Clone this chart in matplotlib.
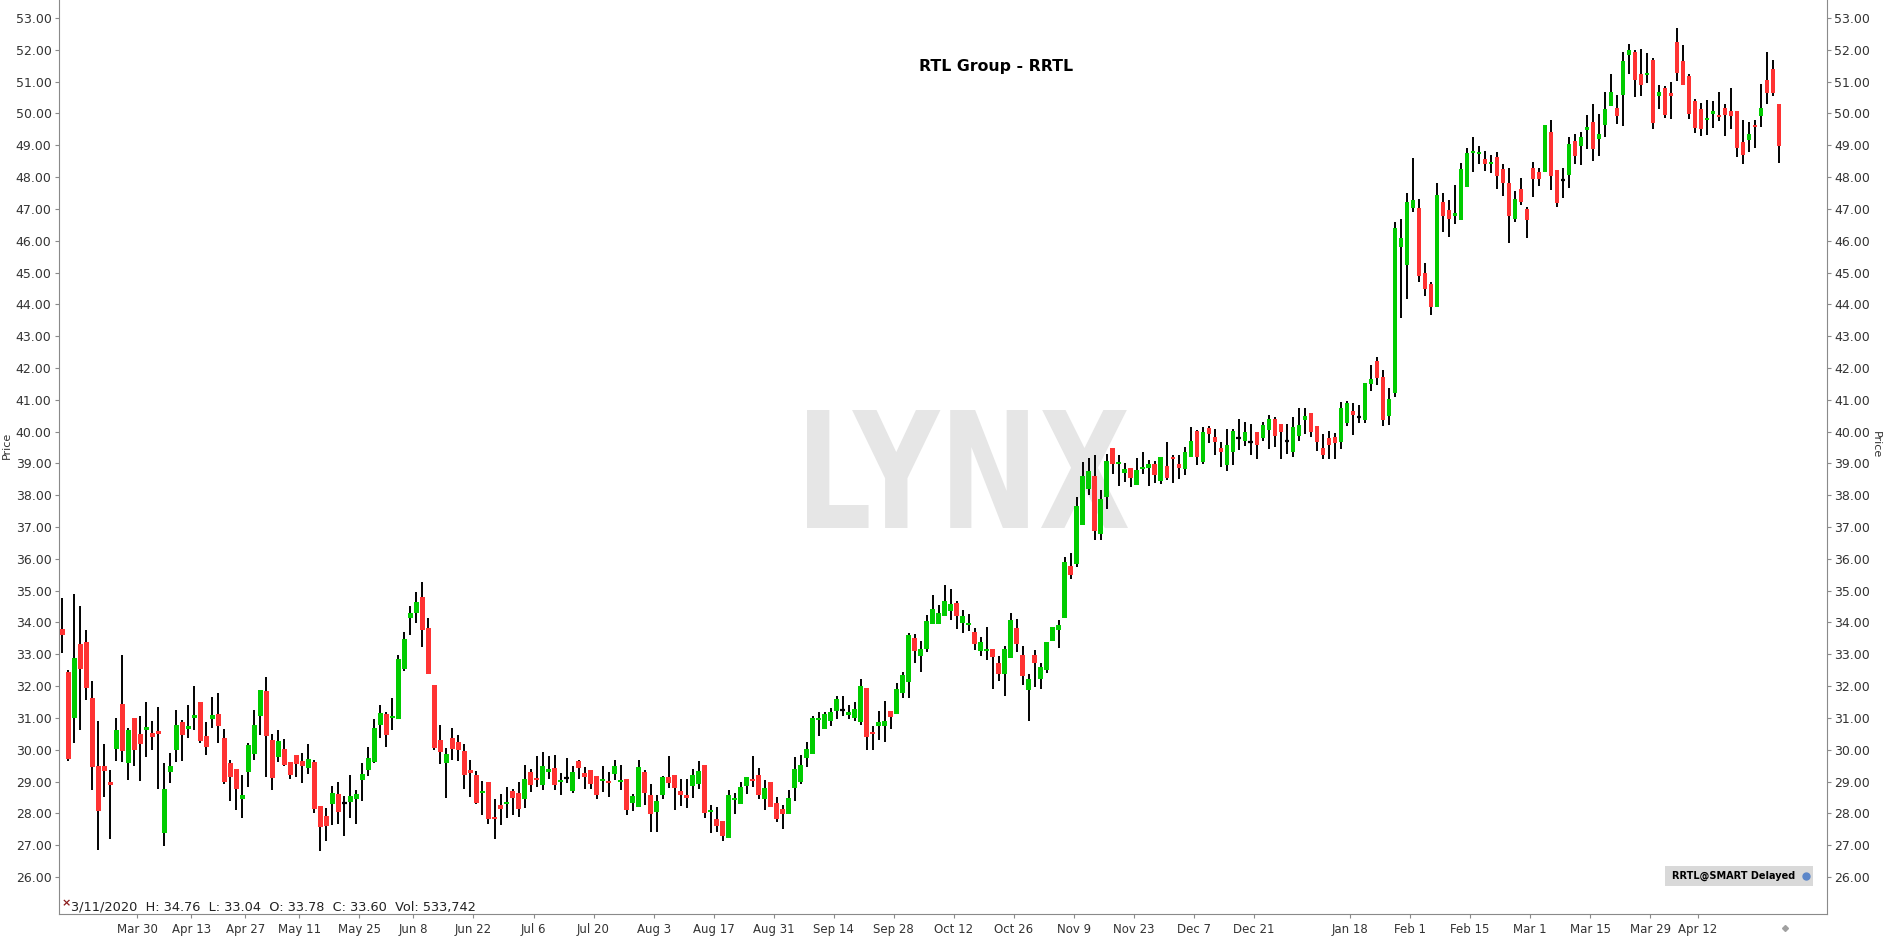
import numpy as np
import pandas as pd
import matplotlib
matplotlib.use("Agg")
import matplotlib.pyplot as plt
from matplotlib.patches import Rectangle, PathPatch
from matplotlib.textpath import TextPath
from matplotlib.font_manager import FontProperties
from matplotlib.transforms import Affine2D

# daily OHLC, RRTL, 11 Mar 2020 .. 29 Apr 2021
opens = [
    33.78, 32.44, 31.00, 33.32, 33.38, 31.62, 29.48, 29.48, 28.98, 30.03,
    31.43, 29.59, 30.99, 30.50, 30.63, 30.53, 30.58, 27.39, 29.30, 29.99,
    30.86, 30.65, 31.00, 31.49, 30.43, 30.96, 31.12, 30.37, 29.59, 29.39,
    28.45, 29.30, 29.86, 31.06, 31.84, 30.30, 29.78, 30.02, 29.61, 29.83,
    29.64, 29.43, 29.61, 28.23, 27.91, 28.31, 28.60, 28.33, 28.36, 28.45,
    29.04, 29.36, 29.61, 30.77, 31.12, 31.00, 30.97, 32.54, 34.15, 34.30,
    34.80, 33.82, 32.03, 30.30, 29.59, 30.36, 30.24, 29.95, 29.36, 29.20,
    28.64, 28.99, 27.88, 28.26, 28.30, 28.70, 28.63, 28.44, 29.29, 29.10,
    28.89, 29.29, 29.42, 29.00, 29.11, 28.71, 29.64, 29.26, 29.36, 29.17,
    29.02, 29.01, 29.24, 29.00, 29.07, 28.33, 28.20, 29.29, 28.57, 28.05,
    28.57, 29.15, 29.20, 28.70, 28.57, 28.87, 28.93, 29.52, 28.05, 27.82,
    27.76, 27.23, 28.41, 28.30, 28.87, 29.08, 29.20, 28.45, 28.98, 28.32,
    28.14, 27.99, 28.80, 29.00, 29.75, 29.87, 30.93, 30.66, 30.91, 31.23,
    31.26, 31.10, 30.99, 30.88, 31.94, 30.55, 30.74, 30.74, 31.21, 31.13,
    31.78, 32.13, 33.51, 32.95, 33.16, 33.96, 33.96, 34.21, 34.37, 34.60,
    33.99, 33.92, 33.70, 33.11, 33.11, 33.16, 32.72, 32.39, 32.89, 33.82,
    32.97, 31.89, 32.97, 32.23, 32.51, 33.41, 33.76, 34.15, 35.77, 35.85,
    37.07, 38.19, 38.60, 36.78, 37.94, 39.48, 38.99, 38.70, 38.85, 38.33,
    38.83, 38.86, 38.98, 38.46, 38.92, 39.20, 38.98, 38.82, 39.20, 40.02,
    39.04, 40.11, 39.83, 39.48, 38.95, 39.36, 39.80, 39.70, 39.68, 39.98,
    39.80, 40.06, 40.39, 40.24, 39.71, 39.37, 39.87, 40.36, 40.59, 40.17,
    39.49, 39.80, 39.84, 39.68, 40.28, 40.65, 40.47, 40.37, 41.50, 42.22,
    41.71, 40.50, 41.22, 45.81, 45.25, 47.04, 47.03, 44.98, 44.64, 43.92,
    47.22, 46.96, 46.78, 46.66, 47.70, 48.76, 48.73, 48.57, 48.42, 48.63,
    48.25, 47.81, 46.69, 47.62, 47.00, 48.28, 48.16, 48.16, 49.42, 48.22,
    47.91, 48.07, 49.13, 48.97, 49.48, 49.73, 49.20, 49.64, 50.23, 50.17,
    50.58, 51.84, 51.93, 51.24, 51.21, 51.68, 50.55, 50.80, 50.64, 52.25,
    51.65, 51.18, 50.39, 50.14, 49.79, 49.98, 49.95, 50.17, 50.08, 50.08,
    49.10, 49.16, 49.64, 49.92, 51.05, 51.40, 50.30,
]
highs = [
    34.76, 32.50, 34.91, 34.51, 33.76, 32.15, 30.90, 30.18, 29.36, 30.99,
    32.97, 30.67, 30.99, 31.06, 31.50, 30.89, 31.35, 29.59, 29.90, 31.24,
    30.95, 31.40, 32.00, 31.49, 30.88, 31.66, 31.79, 30.64, 29.67, 29.41,
    29.20, 30.20, 31.24, 31.87, 32.29, 30.49, 30.61, 30.33, 29.62, 29.83,
    29.90, 30.18, 29.67, 28.23, 28.18, 28.85, 28.98, 28.55, 29.20, 28.75,
    29.59, 30.09, 30.98, 31.40, 31.19, 31.62, 32.97, 33.71, 34.51, 34.95,
    35.27, 34.13, 32.03, 30.77, 30.07, 30.67, 30.46, 30.17, 29.67, 29.33,
    29.01, 28.99, 28.46, 28.62, 28.83, 28.77, 28.98, 29.51, 29.39, 29.80,
    29.92, 29.81, 29.83, 29.27, 29.73, 29.48, 29.67, 29.46, 29.36, 29.17,
    29.48, 29.29, 29.67, 29.51, 29.07, 28.62, 29.67, 29.36, 28.92, 28.57,
    29.19, 29.80, 29.20, 29.08, 29.08, 29.38, 29.64, 29.52, 28.26, 28.21,
    27.76, 28.73, 28.65, 28.98, 29.14, 29.80, 29.43, 29.05, 28.98, 28.52,
    28.26, 28.73, 29.78, 29.83, 30.25, 31.06, 31.18, 31.18, 31.31, 31.70,
    31.70, 31.40, 31.50, 32.21, 31.94, 30.74, 31.21, 31.53, 31.21, 32.10,
    32.43, 33.67, 33.63, 33.42, 34.23, 34.86, 34.55, 35.18, 35.05, 34.68,
    34.39, 34.28, 33.82, 33.54, 33.85, 33.16, 32.94, 33.26, 34.30, 34.11,
    33.26, 32.37, 33.13, 32.72, 33.38, 33.85, 34.08, 36.06, 36.18, 37.94,
    39.04, 39.16, 39.26, 38.16, 39.29, 39.48, 39.27, 39.02, 38.85, 39.17,
    39.36, 39.10, 39.07, 39.19, 39.67, 39.26, 39.26, 39.51, 40.14, 40.05,
    40.14, 40.17, 40.08, 39.67, 40.08, 40.08, 40.40, 40.30, 40.24, 39.98,
    40.30, 40.52, 40.47, 40.24, 40.24, 40.47, 40.75, 40.75, 40.59, 40.17,
    39.92, 40.02, 39.96, 40.93, 40.97, 40.91, 40.83, 41.52, 42.09, 42.34,
    41.93, 41.37, 46.59, 46.68, 47.50, 48.60, 47.31, 45.30, 44.70, 47.81,
    47.50, 47.28, 47.75, 48.44, 48.91, 49.26, 48.97, 48.82, 48.69, 48.79,
    48.41, 48.28, 47.56, 47.97, 47.06, 48.47, 48.28, 49.64, 49.79, 48.22,
    48.28, 49.26, 49.35, 49.42, 49.95, 50.30, 49.98, 50.67, 51.24, 50.58,
    51.93, 52.18, 52.00, 52.03, 51.90, 51.74, 50.90, 50.86, 50.99, 52.69,
    52.15, 51.24, 50.45, 50.33, 50.42, 50.39, 50.67, 50.30, 50.80, 50.08,
    49.79, 49.73, 49.79, 50.93, 51.93, 51.68, 50.30,
]
lows = [
    33.04, 29.65, 30.20, 30.61, 31.56, 28.75, 26.84, 28.52, 27.20, 29.65,
    29.62, 29.04, 29.49, 29.01, 29.78, 29.99, 28.76, 26.97, 28.96, 29.62,
    29.65, 30.37, 30.61, 30.20, 29.83, 30.67, 30.22, 28.91, 28.39, 28.12,
    27.84, 28.83, 29.67, 30.46, 29.14, 28.75, 29.61, 29.49, 29.08, 29.13,
    28.96, 29.25, 28.01, 26.82, 27.14, 27.63, 27.68, 27.28, 27.86, 27.68,
    28.39, 29.17, 29.57, 30.37, 30.09, 30.61, 30.97, 32.48, 33.60, 33.97,
    33.23, 32.37, 30.00, 29.55, 28.49, 29.67, 29.64, 28.76, 28.52, 28.28,
    27.94, 27.68, 27.21, 27.63, 27.84, 27.94, 27.89, 28.17, 28.68, 28.83,
    28.73, 29.07, 28.73, 28.59, 28.96, 28.64, 29.09, 28.78, 28.76, 28.45,
    28.68, 28.51, 29.04, 28.73, 27.94, 28.08, 28.20, 28.25, 27.42, 27.42,
    28.45, 28.79, 28.10, 28.24, 28.18, 28.49, 28.77, 27.86, 27.37, 27.42,
    27.14, 27.23, 27.99, 28.30, 28.60, 28.83, 28.45, 28.12, 28.20, 27.74,
    27.50, 27.99, 28.40, 28.91, 29.47, 29.87, 30.44, 30.66, 30.75, 30.97,
    31.06, 30.97, 30.91, 30.77, 29.99, 29.99, 30.30, 30.24, 30.65, 31.13,
    31.62, 31.62, 32.72, 32.44, 33.07, 33.96, 33.96, 34.21, 34.08, 33.80,
    33.68, 33.74, 33.15, 32.95, 32.83, 31.92, 32.17, 31.70, 32.89, 33.08,
    32.04, 30.91, 31.98, 31.90, 32.42, 33.41, 33.20, 34.15, 35.36, 35.75,
    37.07, 38.00, 36.59, 36.59, 37.57, 38.67, 38.29, 38.42, 38.27, 38.33,
    38.67, 38.30, 38.39, 38.36, 38.49, 38.39, 38.51, 38.64, 39.20, 38.95,
    38.98, 39.64, 39.26, 38.88, 38.76, 38.95, 39.42, 39.55, 39.26, 39.13,
    39.71, 39.46, 39.52, 39.13, 39.31, 39.21, 39.71, 39.92, 39.84, 39.40,
    39.13, 39.13, 39.13, 39.46, 40.18, 39.90, 40.28, 40.28, 41.28, 41.47,
    40.18, 40.22, 41.10, 43.58, 44.18, 46.91, 44.71, 44.27, 43.67, 43.92,
    46.28, 46.12, 46.52, 46.66, 47.70, 48.17, 48.42, 48.19, 48.14, 47.62,
    47.40, 45.94, 46.60, 47.13, 46.09, 47.38, 47.73, 48.16, 47.59, 47.07,
    47.34, 47.66, 48.41, 48.38, 48.88, 48.50, 48.66, 49.26, 50.23, 49.67,
    49.60, 51.24, 50.52, 50.55, 50.96, 49.51, 50.14, 49.86, 49.83, 51.02,
    50.89, 49.83, 49.38, 49.29, 49.32, 49.54, 49.76, 49.29, 49.51, 48.63,
    48.41, 48.79, 48.91, 49.57, 50.30, 50.55, 48.44,
]
closes = [
    33.60, 29.70, 32.87, 32.54, 31.95, 29.46, 28.08, 29.34, 28.90, 30.61,
    29.96, 30.61, 30.00, 30.19, 30.71, 30.40, 30.50, 28.76, 29.48, 30.77,
    30.46, 30.74, 31.08, 30.27, 30.09, 31.09, 30.75, 28.99, 29.15, 28.76,
    28.57, 30.14, 30.77, 31.87, 30.44, 29.12, 30.27, 29.52, 29.21, 29.55,
    29.49, 29.70, 28.14, 27.57, 27.61, 28.63, 28.05, 28.33, 28.54, 28.62,
    29.25, 29.73, 30.68, 31.17, 30.46, 31.06, 32.85, 33.48, 34.30, 34.64,
    33.76, 32.37, 30.06, 29.93, 29.86, 30.03, 29.99, 29.20, 29.27, 28.33,
    28.69, 27.83, 27.83, 28.14, 28.35, 28.49, 28.14, 29.07, 28.89, 29.05,
    29.48, 29.38, 28.89, 29.04, 29.11, 29.29, 29.43, 29.15, 28.92, 28.57,
    29.07, 28.96, 29.48, 29.06, 28.10, 28.54, 29.45, 28.64, 27.99, 28.39,
    29.15, 28.96, 28.80, 28.59, 28.49, 29.20, 29.33, 28.02, 28.10, 27.61,
    27.30, 28.57, 28.47, 28.83, 29.14, 29.01, 28.57, 28.80, 28.21, 27.82,
    27.99, 28.49, 29.39, 29.52, 30.03, 30.99, 30.99, 31.12, 31.18, 31.58,
    31.26, 31.18, 31.27, 32.00, 30.41, 30.50, 30.87, 30.90, 31.03, 31.91,
    32.35, 33.60, 33.10, 33.16, 34.04, 34.42, 34.30, 34.67, 34.58, 34.21,
    34.20, 33.97, 33.33, 33.38, 33.16, 32.92, 32.39, 33.16, 34.08, 33.33,
    32.32, 32.22, 32.73, 32.60, 33.38, 33.85, 33.92, 35.90, 35.49, 37.66,
    38.60, 38.76, 36.87, 37.88, 39.07, 38.99, 39.05, 38.83, 38.55, 38.79,
    38.88, 38.98, 38.64, 39.19, 38.55, 39.15, 38.85, 39.36, 39.70, 39.20,
    39.99, 39.92, 39.67, 39.36, 39.58, 40.02, 39.80, 39.99, 39.68, 39.59,
    40.20, 40.39, 39.87, 39.99, 39.71, 40.14, 40.20, 40.49, 39.99, 39.68,
    39.27, 39.59, 39.65, 40.74, 40.91, 40.53, 40.47, 41.52, 41.65, 41.69,
    40.37, 41.02, 46.40, 46.08, 47.22, 47.28, 44.90, 44.49, 43.92, 47.43,
    46.78, 46.69, 46.87, 48.25, 48.76, 48.82, 48.79, 48.42, 48.47, 48.04,
    47.82, 46.78, 47.31, 47.23, 46.66, 47.94, 47.94, 49.64, 48.03, 47.20,
    47.91, 49.04, 48.66, 49.26, 49.57, 48.88, 49.35, 50.14, 50.67, 49.92,
    51.65, 52.00, 51.05, 50.89, 51.27, 49.70, 50.67, 49.95, 50.55, 51.27,
    50.89, 49.98, 49.54, 49.51, 49.86, 50.08, 49.89, 49.95, 49.92, 48.91,
    48.69, 49.35, 49.57, 50.17, 50.64, 50.64, 48.98,
]

# trading calendar (exchange holidays left out)
holidays = ["2020-04-10", "2020-04-13", "2020-05-01", "2020-06-01",
            "2020-12-24", "2020-12-25", "2020-12-31", "2021-01-01",
            "2021-04-02", "2021-04-05"]
dates = pd.bdate_range("2020-03-11", "2021-04-30")
dates = dates[~dates.isin(pd.to_datetime(holidays))][:len(closes)]

tick_dates = ["2020-03-30", "2020-04-13", "2020-04-27", "2020-05-11", "2020-05-25",
              "2020-06-08", "2020-06-22", "2020-07-06", "2020-07-20", "2020-08-03",
              "2020-08-17", "2020-08-31", "2020-09-14", "2020-09-28", "2020-10-12",
              "2020-10-26", "2020-11-09", "2020-11-23", "2020-12-07", "2020-12-21",
              "2021-01-18", "2021-02-01", "2021-02-15", "2021-03-01", "2021-03-15",
              "2021-03-29", "2021-04-12"]

W, H = 1886, 938
fig = plt.figure(figsize=(W / 100, H / 100), dpi=100)
ax = fig.add_axes([58.5 / W, 24 / H, (1827 - 58.5) / W, 914 / H])

o = np.array(opens)
h = np.array(highs)
l = np.array(lows)
c = np.array(closes)
x = np.arange(len(c))

GREEN = "#00cc00"
RED = "#ff3333"

# watermark, stretched to the box it fills in the original
tp = TextPath((0, 0), "LYNX", size=100,
              prop=FontProperties(family="DejaVu Sans", weight="bold"))
bb = tp.get_extents()
wm_tr = (Affine2D().translate(-bb.x0, -bb.y0)
         .scale((1128 - 807) / bb.width, (528 - 410) / bb.height)
         .translate(807, H - 528)
         .scale(1 / 100) + fig.dpi_scale_trans)
ax.add_patch(PathPatch(tp, transform=wm_tr, facecolor="#e6e6e6",
                       edgecolor="none", zorder=0))

ax.vlines(x, l, h, color="black", linewidth=1.4, zorder=2)
up = c > o
down = c < o
flat = c == o
ax.bar(x[up], np.maximum(c[up] - o[up], 0.04), bottom=o[up], width=0.78,
       color=GREEN, linewidth=0, zorder=3)
ax.bar(x[down], np.maximum(o[down] - c[down], 0.04), bottom=c[down], width=0.78,
       color=RED, linewidth=0, zorder=3)
ax.hlines(c[flat], x[flat] - 0.4, x[flat] + 0.4, color="black", linewidth=1.6, zorder=3)

ax.set_xlim(-0.63, 293.97)
ax.set_ylim(24.837, 53.566)

yt = np.arange(26, 54, 1)
ax.set_yticks(yt)
ax.set_yticklabels([f"{v:.2f}" for v in yt])

pos, lab = [], []
for d in pd.to_datetime(tick_dates):
    i = int(np.searchsorted(dates, d))
    pos.append(i - 0.5)
    lab.append(f"{d.strftime('%b')} {d.day}")
ax.set_xticks(pos)
ax.set_xticklabels(lab)

for s in ["left", "right", "bottom"]:
    ax.spines[s].set_color("#8a8a8a")
ax.spines["top"].set_visible(False)
ax.tick_params(axis="y", right=True, labelright=True, length=3, width=0.8,
               color="#8a8a8a", labelsize=9, labelcolor="#333333", pad=2)
ax.tick_params(axis="x", length=3, width=0.8, color="#8a8a8a",
               labelsize=8.5, labelcolor="#333333", pad=3.5)

fig.text(7 / W, 1 - 445 / H, "Price", rotation=90, ha="center", va="center",
         fontsize=8, color="#333333")
fig.text(1876 / W, 1 - 445 / H, "Price", rotation=270, ha="center", va="center",
         fontsize=8, color="#333333")

fig.text(996 / W, 1 - 66 / H, "RTL Group - RRTL", ha="center", va="center",
         fontsize=11.3, fontweight="bold", color="black")

fig.text(62 / W, 1 - 903 / H, "×", ha="left", va="center", fontsize=8,
         fontweight="bold", color="#8b1a1a")
fig.text(71 / W, 1 - 907 / H,
         "3/11/2020  H: 34.76  L: 33.04  O: 33.78  C: 33.60  Vol: 533,742",
         ha="left", va="center", fontsize=9.3, color="#222222")

fig.patches.append(Rectangle((1665 / W, 1 - 886 / H), 148 / W, 20 / H,
                             transform=fig.transFigure, facecolor="#d9d9d9",
                             edgecolor="none", zorder=5))
fig.text(1672 / W, 1 - 876 / H, "RRTL@SMART Delayed", ha="left", va="center",
         fontsize=7, fontweight="bold", color="black", zorder=6)
fig.add_artist(plt.Line2D([1806 / W], [1 - 876 / H], marker="o", markersize=5,
                          color="#5b86c9", transform=fig.transFigure, zorder=7))
fig.add_artist(plt.Line2D([1785 / W], [1 - 928 / H], marker="D", markersize=3,
                          color="#a0a0a0", transform=fig.transFigure))

fig.savefig("out.png", dpi=100)
